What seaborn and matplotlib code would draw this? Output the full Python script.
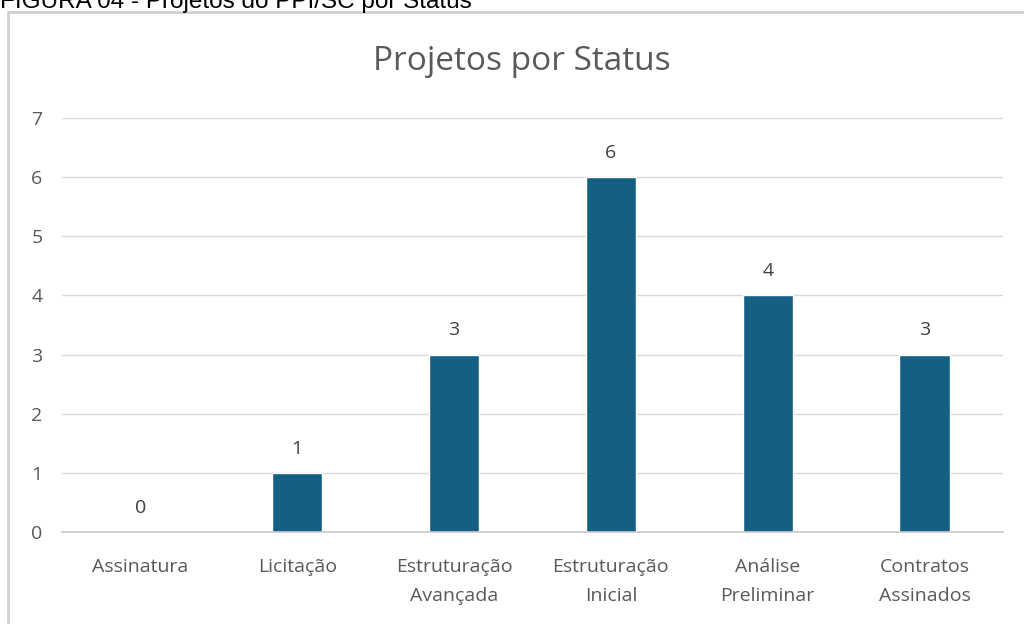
import matplotlib
matplotlib.use("Agg")
import matplotlib.pyplot as plt
import seaborn as sns
import pandas as pd
from matplotlib.patches import Rectangle

status = ["Assinatura", "Licitação", "Estruturação\nAvançada", "Estruturação\nInicial",
          "Análise\nPreliminar", "Contratos\nAssinados"]
projetos = [0, 1, 3, 6, 4, 3]

df = pd.DataFrame({"status": status, "projetos": projetos})

sns.set_theme(style="white")
plt.rcParams["font.family"] = ["Open Sans", "DejaVu Sans"]

fig = plt.figure(figsize=(10.24, 6.24), dpi=100)
ax = fig.add_axes([0.0605, 0.1474, 0.919, 0.6635])

sns.barplot(data=df, x="status", y="projetos", color="#156082", width=0.32,
            saturation=1, ax=ax)

ax.set_ylim(0, 7)
ax.set_yticks(range(0, 8))
ax.yaxis.grid(True, color="#d9d9d9", linewidth=1)
ax.set_axisbelow(True)
for s in ["top", "right", "left"]:
    ax.spines[s].set_visible(False)
ax.spines["bottom"].set_color("#c8c8c8")
ax.spines["bottom"].set_linewidth(1.2)
ax.tick_params(axis="both", length=0, colors="#595959", labelsize=14)
ax.tick_params(axis="x", pad=19)
ax.tick_params(axis="y", pad=14)
for lbl in ax.get_xticklabels():
    lbl.set_linespacing(1.75)
ax.set_xlabel("")
ax.set_ylabel("")

for i, v in enumerate(projetos):
    ax.annotate(str(v), (i, v), xytext=(0, 11), textcoords="offset points",
                ha="center", va="bottom", fontsize=14, color="#404040")

fig.text(0.51, 0.902, "Projetos por Status", ha="center", va="center",
         fontsize=24, color="#595959")

fig.text(0.0, 1 - 8 / 624, "FIGURA 04 - Projetos do PPI/SC por Status", ha="left",
         va="baseline", fontsize=17.5, color="black", family=["Liberation Sans"])

fig.patches.append(Rectangle((8 / 1024, -0.05), 1.1, 1 - 12 / 624 + 0.05,
                             transform=fig.transFigure, fill=False,
                             edgecolor="#d0d0d0", linewidth=2))

fig.savefig("out.png", dpi=100)
